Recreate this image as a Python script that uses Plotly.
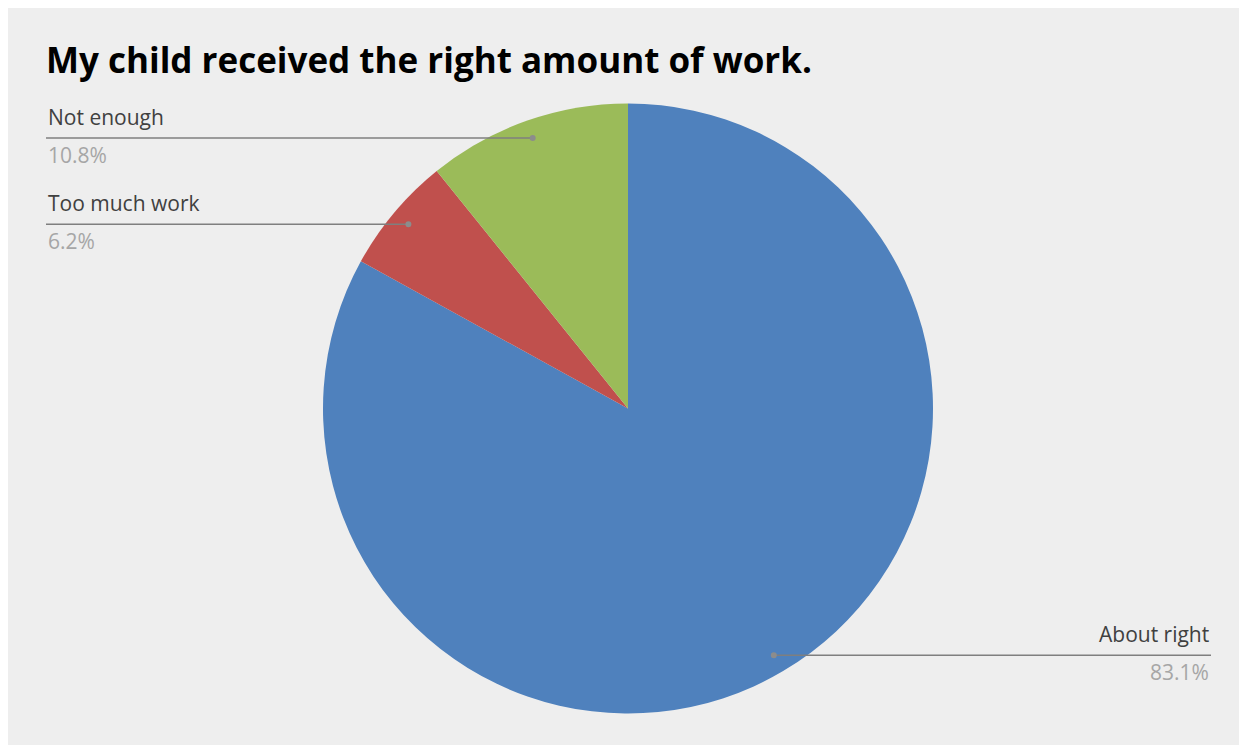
import math
import plotly.graph_objects as go

# ---- data ----
categories = ["About right", "Too much work", "Not enough"]
values = [83.1, 6.2, 10.8]
pct_labels = ["83.1%", "6.2%", "10.8%"]
colors = ["#4f81bd", "#c0504d", "#9bbb59"]
title_text = "My child received the right amount of work."

# page has an 8px body margin; positions below are in page pixels
OFF = 8
W, H = 1247, 745
CX, CY, R = 628 - OFF, 408.5 - OFF, 305


def px(x):
    return (x - OFF) / W


def py(y):
    return 1 - (y - OFF) / H


fig = go.Figure()
fig.add_trace(go.Pie(
    labels=categories, values=values, sort=False, direction="clockwise",
    rotation=0, marker=dict(colors=colors, line=dict(width=0)),
    textinfo="none", hoverinfo="label+percent", showlegend=False,
    domain=dict(x=[(CX - R) / W, (CX + R) / W], y=[1 - (CY + R) / H, 1 - (CY - R) / H]),
))

shapes = []
annotations = []
total = sum(values)
cum = 0.0
for cat, v, p in zip(categories, values, pct_labels):
    mid = (cum + v / 2) / total * 2 * math.pi
    cum += v
    dx = CX + OFF + 0.94 * R * math.sin(mid)
    dy = CY + OFF - 0.94 * R * math.cos(mid)
    if math.sin(mid) > 0:
        x0, x1, tx, anchor = dx, 1211, 1211, "right"
    else:
        x0, x1, tx, anchor = 46, dx, 46, "left"
    shapes.append(dict(type="line", xref="paper", yref="paper", x0=px(x0), x1=px(x1),
                       y0=py(dy), y1=py(dy), line=dict(color="#7f7f7f", width=1.5)))
    shapes.append(dict(type="circle", xref="paper", yref="paper", x0=px(dx - 3), x1=px(dx + 3),
                       y0=py(dy + 3), y1=py(dy - 3), fillcolor="#8c8c8c",
                       line=dict(width=0)))
    annotations.append(dict(xref="paper", yref="paper", x=px(tx), y=py(dy - 5), text=cat,
                            showarrow=False, xanchor=anchor, yanchor="bottom",
                            font=dict(family="Open Sans", size=21, color="#404040")))
    annotations.append(dict(xref="paper", yref="paper", x=px(tx), y=py(dy + 1), text=p,
                            showarrow=False, xanchor=anchor, yanchor="top",
                            font=dict(family="Open Sans", size=21, color="#a6a6a6")))

annotations.append(dict(xref="paper", yref="paper", x=px(44), y=py(34), text="<b>" + title_text + "</b>",
                        showarrow=False, xanchor="left", yanchor="top",
                        font=dict(family="Open Sans", size=35, color="#000000")))

fig.update_layout(width=W, height=H, margin=dict(l=0, r=0, t=0, b=0),
                  paper_bgcolor="#eeeeee", plot_bgcolor="#eeeeee",
                  shapes=shapes, annotations=annotations)
fig.write_html("out.html")
